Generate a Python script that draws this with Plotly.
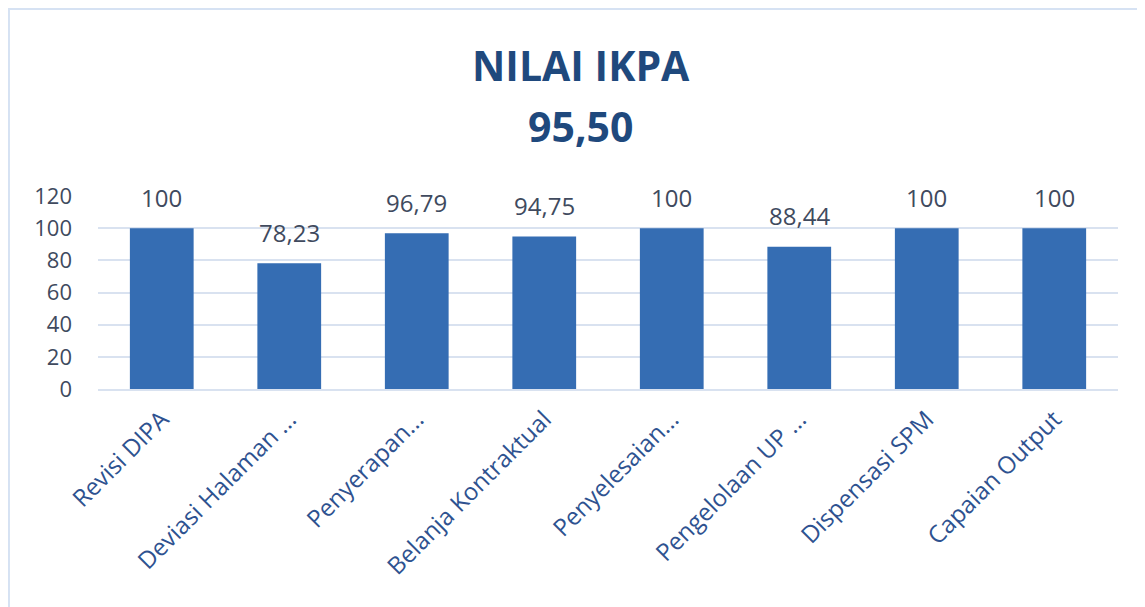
import plotly.graph_objects as go

categories = ["Revisi DIPA", "Deviasi Halaman ...", "Penyerapan...", "Belanja Kontraktual",
              "Penyelesaian...", "Pengelolaan UP ...", "Dispensasi SPM", "Capaian Output"]
values = [100, 78.23, 96.79, 94.75, 100, 88.44, 100, 100]
labels = ["100", "78,23", "96,79", "94,75", "100", "88,44", "100", "100"]
title_main = "NILAI IKPA"
title_value = "95,50"
y_ticks = [0, 20, 40, 60, 80, 100, 120]

FONT = "Open Sans"

fig = go.Figure()
fig.add_trace(go.Bar(
    x=categories, y=values,
    marker=dict(color="#356db3", line=dict(width=0)),
    hoverinfo="x+y",
))

for c, v, t in zip(categories, values, labels):
    fig.add_annotation(x=c, y=v, text=t, showarrow=False, yshift=31,
                       font=dict(family=FONT, size=24, color="#404a5e"))

fig.add_annotation(x=0.4735, y=1.679, xref="paper", yref="paper", yanchor="middle",
                   text="<b>%s</b>" % title_main,
                   showarrow=False, font=dict(family=FONT, size=41, color="#1F497D"))
fig.add_annotation(x=0.4735, y=1.363, xref="paper", yref="paper", yanchor="middle",
                   text="<b>%s</b>" % title_value,
                   showarrow=False, font=dict(family=FONT, size=41, color="#1F497D"))

fig.add_shape(type="rect", xref="paper", yref="paper", x0=-0.0873, x1=1.1, y0=-1.3, y1=1.969,
              line=dict(color="#d6e2f3", width=2), fillcolor="rgba(0,0,0,0)", layer="below")

fig.update_layout(
    width=1145, height=607,
    margin=dict(l=90, r=35, t=188, b=226),
    paper_bgcolor="white", plot_bgcolor="white",
    bargap=0.5,
    showlegend=False,
    font=dict(family=FONT),
    xaxis=dict(tickangle=-45, tickfont=dict(family=FONT, size=24, color="#2E5290"),
               showgrid=False, showline=True, linecolor="#d9e2f0", linewidth=1.5, ticks="",
               ticklabelstandoff=5),
    yaxis=dict(range=[0, 120], tickvals=y_ticks, tickfont=dict(family=FONT, size=22, color="#404a5e"),
               showgrid=True, gridcolor="#d9e2f0", gridwidth=1.5, zeroline=False, ticks="",
               showline=False, ticklabelstandoff=25),
)

fig.write_html("out.html")
